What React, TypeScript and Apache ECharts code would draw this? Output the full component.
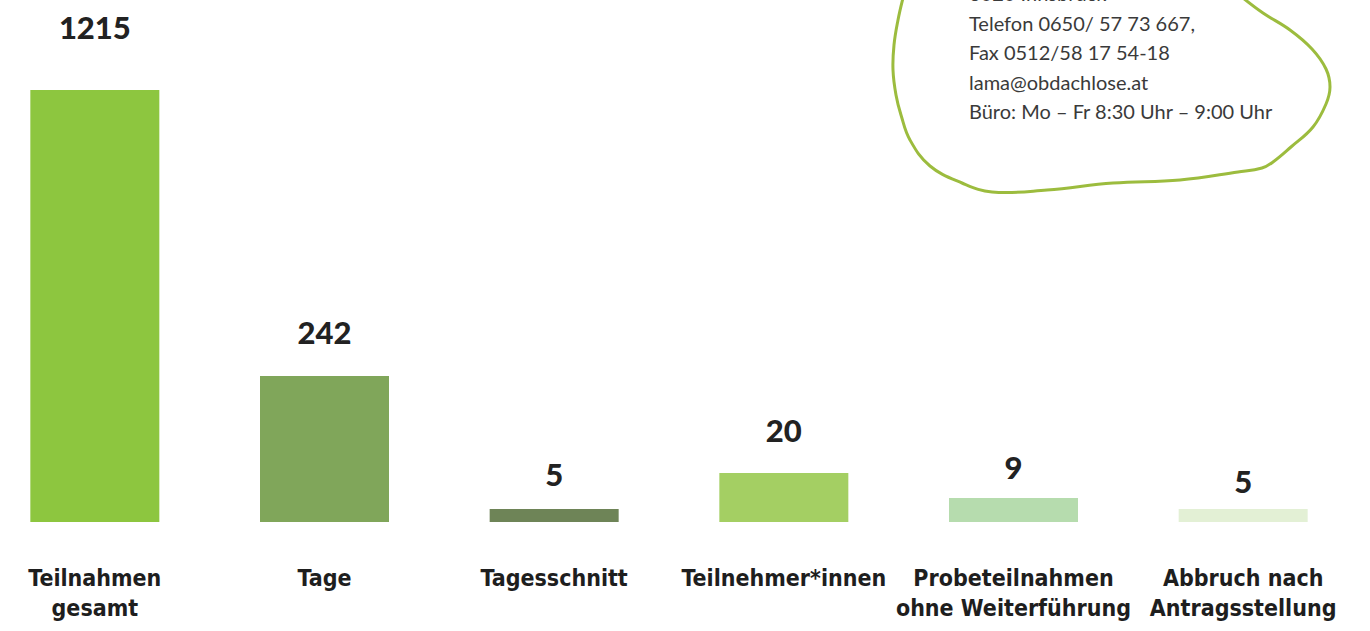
import React, { useEffect, useRef } from "react";
import * as echarts from "echarts";

// Categories (two-line labels as printed)
const categories = [
  "Teilnahmen\ngesamt",
  "Tage",
  "Tagesschnitt",
  "Teilnehmer*innen",
  "Probeteilnahmen\nohne Weiterführung",
  "Abbruch nach\nAntragsstellung",
];

// Printed values
const values = [1215, 242, 5, 20, 9, 5];

// Bar heights as drawn in the infographic (not proportional to values)
const barHeights = [432, 146, 13, 49, 24, 13];

const barColors = ["#8dc63f", "#80a65a", "#6e8457", "#a4cf63", "#b6dcae", "#e3f0d5"];
const labelGaps = [48, 29, 20, 28, 16, 13];

const contactLines = [
  "6020 Innsbruck",
  "Telefon 0650/ 57 73 667,",
  "Fax 0512/58 17 54-18",
  "lama@obdachlose.at",
  "Büro: Mo – Fr 8:30 Uhr – 9:00 Uhr",
];

const loopPoints = [
  [903, -2], [898, 20], [894, 45], [893, 70], [896, 95], [901, 115], [910, 140],
  [930, 166], [962, 183], [992, 192], [1047, 190], [1113, 183], [1180, 180],
  [1238, 172], [1262, 168], [1273, 162], [1291, 147], [1313, 127], [1326, 104],
  [1330, 87], [1326, 69], [1312, 49], [1290, 30], [1263, 13], [1243, -2],
];

export default function App() {
  const ref = useRef<HTMLDivElement>(null);
  useEffect(() => {
    if (!ref.current) return;
    const chart = echarts.init(ref.current, null, { renderer: "svg" });
    chart.setOption({
      animation: false,
      backgroundColor: "#ffffff",
      grid: {
        left: -20,
        width: 1378,
        top: 90,
        bottom: 109,
        containLabel: false,
        outerBoundsMode: "none",
      },
      xAxis: {
        type: "category",
        data: categories,
        axisLine: { show: false },
        axisTick: { show: false },
        axisLabel: {
          interval: 0,
          margin: 41,
          fontFamily: "DejaVu Sans Condensed",
          fontWeight: "bold",
          fontSize: 23,
          lineHeight: 30,
          color: "#1e1e1e",
        },
      },
      yAxis: {
        type: "value",
        min: 0,
        max: 432,
        show: false,
        splitLine: { show: false },
      },
      series: [
        {
          type: "bar",
          barWidth: 129,
          data: barHeights.map((h, i) => ({
            value: h,
            itemStyle: { color: barColors[i] },
            label: {
              show: true,
              position: "top",
              distance: labelGaps[i],
              formatter: String(values[i]),
              fontFamily: "Lato",
              fontWeight: 900,
              fontSize: 31,
              color: "#222222",
            },
          })),
        },
      ],
      graphic: [
        {
          type: "polyline",
          shape: { points: loopPoints, smooth: 0.4 },
          style: { fill: "none", stroke: "#9cbc3e", lineWidth: 3 },
        },
        ...contactLines.map((t, i) => ({
          type: "text",
          left: 969,
          top: -17 + i * 29.5,
          style: {
            text: t,
            fontFamily: "Lato",
            fontSize: 20,
            fill: "#3a3a3a",
          },
        })),
      ],
    });
    return () => chart.dispose();
  }, []);
  return (
    <div
      ref={ref}
      style={{ position: "fixed", left: 0, top: 0, width: 1370, height: 631 }}
    />
  );
}
